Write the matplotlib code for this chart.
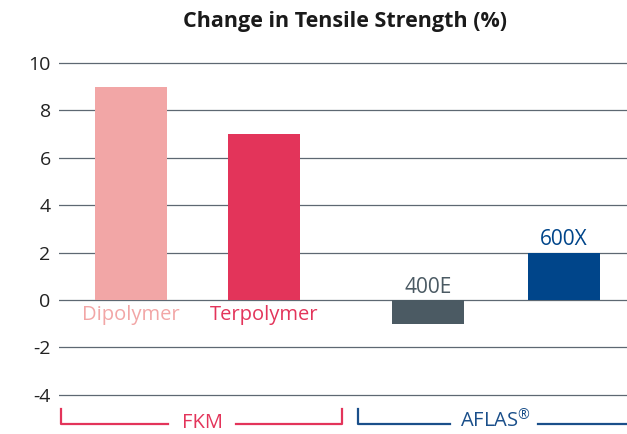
import matplotlib
matplotlib.use("Agg")
import matplotlib.pyplot as plt
from matplotlib.lines import Line2D

plt.rcParams['font.family'] = ['Open Sans', 'DejaVu Sans']
plt.rcParams['mathtext.fontset'] = 'custom'
plt.rcParams['mathtext.rm'] = 'Open Sans'
plt.rcParams['mathtext.default'] = 'rm'

categories = ["Dipolymer", "Terpolymer", "400E", "600X"]
values = [9, 7, -1, 2]
groups = ["FKM", "AFLAS$^{®}$"]
yticks = [-4, -2, 0, 2, 4, 6, 8, 10]
title = "Change in Tensile Strength (%)"

colors = ["#f2a6a6", "#e3345a", "#4b5a63", "#00458a"]
positions = [131, 264, 428, 564]   # layout (pixel-like x units)

W, H = 627, 434
fig = plt.figure(figsize=(W / 100, H / 100), dpi=100)
y_lo, y_hi = -4.1, 10.1
px_per_unit = (395 - 63) / 14.0
top_px = 300 - y_hi * px_per_unit
bot_px = 300 - y_lo * px_per_unit
ax = fig.add_axes([59 / W, (H - bot_px) / H, (W - 59) / W, (bot_px - top_px) / H])
ax.set_xlim(59, W)
ax.set_ylim(y_lo, y_hi)

for y in yticks:
    ax.axhline(y, color="#5d6872", lw=0.9, zorder=1)

ax.bar(positions, values, width=72, color=colors, zorder=2)

for s in ax.spines.values():
    s.set_visible(False)
ax.set_xticks([])
ax.set_yticks(yticks)
ax.set_yticklabels([str(t) for t in yticks], fontsize=14, color="#222222")
ax.tick_params(axis="y", length=0, pad=6)

# category labels
for i, (p, v, c, name) in enumerate(zip(positions, values, colors, categories)):
    if i < 2:
        ax.text(p, -0.2, name, ha="center", va="top", fontsize=14.5, color=c)
    else:
        ax.text(p, max(v, 0) + 0.1, name, ha="center", va="bottom", fontsize=15, color=c)

fig.text(345 / W, 1 - 22 / H, title, ha="center", va="center",
         fontsize=15.5, fontweight="bold", color="#1a1a1a")

# group brackets
def py(p):
    return (300 - p) / px_per_unit

y_top, y_bot = py(409), py(424)
red, blue = "#e3345a", "#1a4f8a"
kw = dict(lw=1.6, clip_on=False, zorder=3)
# FKM
ax.add_line(Line2D([61, 61, 168], [y_top, y_bot, y_bot], color=red, **kw))
ax.add_line(Line2D([236, 342, 342], [y_bot, y_bot, y_top], color=red, **kw))
ax.text(202, py(423), groups[0], ha="center", va="center", fontsize=14.5, color=red, clip_on=False)
# AFLAS
ax.add_line(Line2D([358, 358, 450], [y_top, y_bot, y_bot], color=blue, **kw))
ax.add_line(Line2D([538, 627], [y_bot, y_bot], color=blue, **kw))
ax.text(495, py(421), groups[1], ha="center", va="center", fontsize=14.5, color=blue, clip_on=False)

fig.savefig("out.png", dpi=100)
